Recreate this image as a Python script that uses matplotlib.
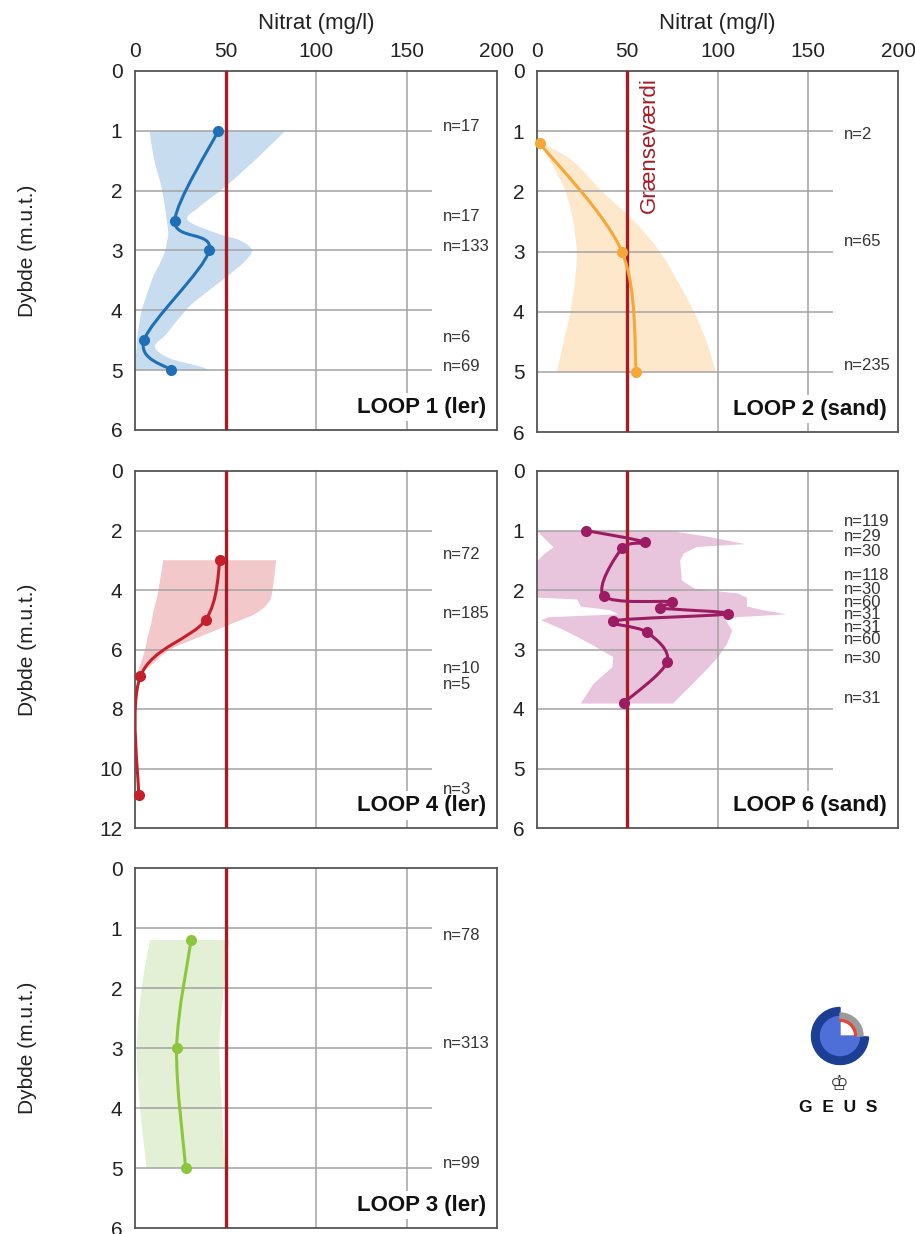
import numpy as np
import matplotlib
matplotlib.use('Agg')
import matplotlib.pyplot as plt
from matplotlib.path import Path
from matplotlib.patches import PathPatch, Wedge

plt.rcParams['font.family'] = ['Liberation Sans', 'DejaVu Sans']

# LOOP 1 (ler)
loop1_depth = [1.0, 2.5, 3.0, 4.5, 5.0]
loop1_nitrat = [46, 22, 41, 5, 20]
loop1_n = ['n=17', 'n=17', 'n=133', 'n=6', 'n=69']
loop1_n_depth = [0.93, 2.44, 2.94, 4.45, 4.94]
loop1_band_depth = [1.0, 1.47, 1.93, 2.26, 2.49, 2.71, 2.83, 3.0, 3.2, 3.44, 3.83, 4.0, 4.39, 4.61, 4.8, 4.94, 5.0]
loop1_band_lo = [8, 10.5, 14.5, 16.5, 17.5, 18.4, 17.8, 16.6, 14, 10, 5.5, 3.7, 1.5, 0.9, 0.4, 0.1, 0]
loop1_band_hi = [83, 67, 50, 36, 29, 45, 58, 64.5, 60, 50.6, 34, 28, 17.5, 11, 19, 36, 41]

# LOOP 2 (sand)
loop2_depth = [1.2, 3.0, 5.0]
loop2_nitrat = [1.5, 47, 55]
loop2_n = ['n=2', 'n=65', 'n=235']
loop2_n_depth = [1.06, 2.84, 4.9]
loop2_band_depth = [1.2, 1.5, 2.0, 2.5, 3.0, 3.5, 4.0, 4.5, 5.0]
loop2_band_lo = [1.5, 7.4, 15.7, 20, 22, 21, 18.5, 14.8, 11]
loop2_band_hi = [3, 20, 36, 54, 68, 78, 87, 94, 99]

# LOOP 4 (ler)
loop4_depth = [3.0, 5.0, 6.9, 10.9]
loop4_nitrat = [47, 39, 3, 2]
loop4_n = ['n=72', 'n=185', 'n=10', 'n=5', 'n=3']
loop4_n_depth = [2.82, 4.78, 6.63, 7.19, 10.72]
loop4_band_depth = [3.0, 4.0, 4.4, 4.78, 5.12, 5.57, 6.02, 6.58, 6.91]
loop4_band_lo = [15.6, 13, 11.5, 10, 9, 7, 5.5, 2.5, 0.5]
loop4_band_hi = [78, 76, 74, 67, 54, 36, 19, 8, 1]

# LOOP 6 (sand)
loop6_depth = [1.0, 1.2, 1.3, 2.1, 2.2, 2.3, 2.4, 2.52, 2.71, 3.21, 3.9]
loop6_nitrat = [27, 60, 47, 37, 75, 68, 106, 42, 61, 72, 48]
loop6_n = ['n=119', 'n=29', 'n=30', 'n=118', 'n=30', 'n=60', 'n=31', 'n=31', 'n=60', 'n=30', 'n=31']
loop6_n_depth = [0.85, 1.1, 1.35, 1.76, 2.0, 2.21, 2.42, 2.63, 2.84, 3.15, 3.82]
loop6_band_depth = [1.0, 1.1, 1.22, 1.27, 1.38, 1.5, 1.61, 1.83, 1.97, 2.05, 2.12, 2.15, 2.27, 2.33, 2.4, 2.45, 2.5, 2.67, 2.9, 3.12, 3.29, 3.57, 3.9]
loop6_band_lo = [0, 3, 7, 9, 4, 0, 0, 0, 0, 0, 0, 22, 24, 40, 45, 6, 2, 15, 29.5, 42, 41.5, 31, 24]
loop6_band_hi = [74, 95, 115, 88, 81, 79, 79.4, 80, 87, 111, 116, 116, 116, 125, 138, 110, 104, 108, 105, 100, 95, 86, 75]

# LOOP 3 (ler)
loop3_depth = [1.2, 3.0, 5.0]
loop3_nitrat = [31, 23, 28]
loop3_n = ['n=78', 'n=313', 'n=99']
loop3_n_depth = [1.12, 2.92, 4.92]
loop3_band_depth = [1.2, 2.0, 3.0, 4.0, 5.0]
loop3_band_lo = [8.3, 3.7, 1.0, 2.8, 6.4]
loop3_band_hi = [52, 49, 46.6, 48, 49.7]

x_ticks = [0, 50, 100, 150, 200]
limit_value = 50

LIMIT_RED = '#a51c24'
GRID = '#a3a3a3'


def catmull(xs, ys):
    # smooth curve through the points (Excel style smoothed line)
    pts = np.column_stack([xs, ys]).astype(float)
    n = len(pts)
    verts = [pts[0]]
    codes = [Path.MOVETO]
    for i in range(n - 1):
        p0 = pts[max(i - 1, 0)]
        p1 = pts[i]
        p2 = pts[i + 1]
        p3 = pts[min(i + 2, n - 1)]
        verts += [p1 + (p2 - p0) / 6, p2 - (p3 - p1) / 6, p2]
        codes += [Path.CURVE4] * 3
    return verts, codes


def draw_band(ax, depth, lo, hi, color, smooth=True):
    if smooth:
        v1, c1 = catmull(lo, depth)
        v2, c2 = catmull(hi[::-1], depth[::-1])
        c2[0] = Path.LINETO
        verts = v1 + v2 + [v1[0]]
        codes = c1 + c2 + [Path.CLOSEPOLY]
        ax.add_patch(PathPatch(Path(verts, codes), facecolor=color, edgecolor='none', zorder=1))
    else:
        ax.fill_betweenx(depth, lo, hi, color=color, lw=0, zorder=1)


def draw_profile(ax, depth, nitrat, color):
    v, c = catmull(nitrat, depth)
    ax.add_patch(PathPatch(Path(v, c), facecolor='none', edgecolor=color, lw=2.2,
                           zorder=4, capstyle='round', joinstyle='round'))
    ax.plot(nitrat, depth, 'o', color=color, ms=8, mew=0, zorder=5, clip_on=False)


def setup(ax, ymax, ystep, top_labels, left_label, loop_label):
    ax.set_xlim(0, 200)
    ax.set_ylim(ymax, 0)
    ax.set_xticks(x_ticks)
    yt = list(range(0, ymax + 1, ystep))
    ax.set_yticks(yt)
    ax.tick_params(length=0, labelsize=15, colors='#222222')
    ax.tick_params(axis='y', pad=9)
    if top_labels:
        ax.tick_params(axis='x', top=True, labeltop=True, bottom=False, labelbottom=False, pad=7)
        ax.text(0.5, 1.116, 'Nitrat (mg/l)', transform=ax.transAxes, ha='center',
                va='baseline', fontsize=16, color='#222222')
    else:
        ax.tick_params(axis='x', labelbottom=False)
    for s in ax.spines.values():
        s.set_color('#555555')
        s.set_linewidth(1.3)
    ax.hlines(yt[1:-1], 0, 164, color=GRID, lw=1.1, zorder=2)
    for x in x_ticks[2:4]:
        ax.axvline(x, color=GRID, lw=1.1, zorder=2)
    ax.axvline(limit_value, color=LIMIT_RED, lw=2.4, zorder=3)
    ax.text(0.97, 0.063, loop_label, transform=ax.transAxes, ha='right', va='center',
            fontsize=16, fontweight='bold', color='#111111',
            bbox=dict(facecolor='white', edgecolor='none', pad=2.5), zorder=6)
    if left_label:
        ax.text(-0.298, 0.5, 'Dybde (m.u.t.)', transform=ax.transAxes, rotation=90,
                ha='center', va='center', fontsize=15, color='#222222')


def n_labels(ax, labels, depths):
    for s, d in zip(labels, depths):
        ax.text(170, d, s, fontsize=12, ha='left', va='center', color='#333333', zorder=6)


fig = plt.figure(figsize=(9.15, 12.34), dpi=100)
W, H = 915, 1234

ax1 = fig.add_axes([135 / W, 1 - 430 / H, 362 / W, 359 / H])
ax2 = fig.add_axes([537 / W, 1 - 432 / H, 361 / W, 361 / H])
ax4 = fig.add_axes([135 / W, 1 - 828 / H, 362 / W, 357 / H])
ax6 = fig.add_axes([537 / W, 1 - 828 / H, 361 / W, 357 / H])
ax3 = fig.add_axes([135 / W, 1 - 1228 / H, 362 / W, 360 / H])

setup(ax1, 6, 1, True, True, 'LOOP 1 (ler)')
draw_band(ax1, loop1_band_depth, loop1_band_lo, loop1_band_hi, '#c8dcf0')
draw_profile(ax1, loop1_depth, loop1_nitrat, '#1f6fb6')
n_labels(ax1, loop1_n, loop1_n_depth)

setup(ax2, 6, 1, True, False, 'LOOP 2 (sand)')
draw_band(ax2, loop2_band_depth, loop2_band_lo, loop2_band_hi, '#fde8cb')
draw_profile(ax2, loop2_depth, loop2_nitrat, '#f5a838')
n_labels(ax2, loop2_n, loop2_n_depth)
ax2.text(62.5, 0.1, 'Grænseværdi', rotation=90, ha='center', va='top', fontsize=16,
         color=LIMIT_RED, zorder=6)

setup(ax4, 12, 2, False, True, 'LOOP 4 (ler)')
draw_band(ax4, loop4_band_depth, loop4_band_lo, loop4_band_hi, '#f3c8cb')
draw_profile(ax4, loop4_depth, loop4_nitrat, '#c4202c')
n_labels(ax4, loop4_n, loop4_n_depth)

setup(ax6, 6, 1, False, False, 'LOOP 6 (sand)')
draw_band(ax6, loop6_band_depth, loop6_band_lo, loop6_band_hi, '#e8c5dc', smooth=False)
draw_profile(ax6, loop6_depth, loop6_nitrat, '#9c1c64')
n_labels(ax6, loop6_n, loop6_n_depth)

setup(ax3, 6, 1, False, True, 'LOOP 3 (ler)')
draw_band(ax3, loop3_band_depth, loop3_band_lo, loop3_band_hi, '#e3f0d6')
draw_profile(ax3, loop3_depth, loop3_nitrat, '#8cc63e')
n_labels(ax3, loop3_n, loop3_n_depth)

# GEUS logo
axl = fig.add_axes([790 / W, 1 - 1120 / H, 100 / W, 125 / H])
axl.set_xlim(790, 890)
axl.set_ylim(114, 239)
axl.axis('off')
c = (840, 198)
axl.add_patch(Wedge(c, 28.5, 90, 358, width=9, color='#1c3f94'))
axl.add_patch(Wedge(c, 19.5, 90, 360, color='#4f6fd8'))
axl.add_patch(Wedge(c, 23, 0, 90, width=6.5, color='#9b9b9b'))
axl.add_patch(Wedge(c, 16.5, 0, 90, width=1.8, color='#e0463c'))
axl.text(839, 150, '\u2654', fontsize=15, ha='center', va='center', family='DejaVu Sans', color='#333333')
axl.text(838, 127, 'G  E  U  S', fontsize=12.5, fontweight='bold', ha='center', va='center', color='#111111')

fig.savefig('out.png', dpi=100)
